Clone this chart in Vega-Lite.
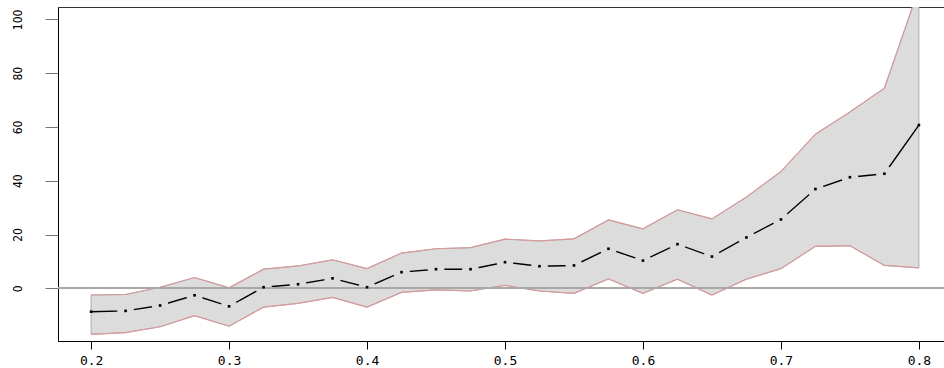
{
  "$schema": "https://vega.github.io/schema/vega-lite/v6.json",
  "width": 894,
  "height": 334,
  "autosize": {"type": "none"},
  "padding": {"left": 58, "top": 7, "right": 0, "bottom": 27},
  "background": "white",
  "config": {"view": {"stroke": "#333333", "strokeWidth": 1}},
  "data": {"values": [
    {"x": 0.2, "mean": -8.7, "lo": -17.1, "hi": -2.5},
    {"x": 0.225, "mean": -8.4, "lo": -16.5, "hi": -2.3},
    {"x": 0.25, "mean": -6.4, "lo": -14.3, "hi": 0.4},
    {"x": 0.275, "mean": -2.6, "lo": -10.2, "hi": 4.0},
    {"x": 0.3, "mean": -6.7, "lo": -14.1, "hi": 0.2},
    {"x": 0.325, "mean": 0.4, "lo": -7.0, "hi": 7.1},
    {"x": 0.35, "mean": 1.5, "lo": -5.6, "hi": 8.3},
    {"x": 0.375, "mean": 3.7, "lo": -3.4, "hi": 10.6},
    {"x": 0.4, "mean": 0.4, "lo": -7.0, "hi": 7.3},
    {"x": 0.425, "mean": 6.0, "lo": -1.5, "hi": 13.1},
    {"x": 0.45, "mean": 7.1, "lo": -0.6, "hi": 14.7},
    {"x": 0.475, "mean": 7.1, "lo": -1.0, "hi": 15.1},
    {"x": 0.5, "mean": 9.7, "lo": 1.1, "hi": 18.3},
    {"x": 0.525, "mean": 8.2, "lo": -1.0, "hi": 17.6},
    {"x": 0.55, "mean": 8.5, "lo": -1.9, "hi": 18.4},
    {"x": 0.575, "mean": 14.7, "lo": 3.5, "hi": 25.4},
    {"x": 0.6, "mean": 10.3, "lo": -1.9, "hi": 22.1},
    {"x": 0.625, "mean": 16.4, "lo": 3.4, "hi": 29.2},
    {"x": 0.65, "mean": 11.8, "lo": -2.5, "hi": 25.8},
    {"x": 0.675, "mean": 18.9, "lo": 3.4, "hi": 33.9},
    {"x": 0.7, "mean": 25.6, "lo": 7.3, "hi": 43.4},
    {"x": 0.725, "mean": 36.9, "lo": 15.6, "hi": 57.3},
    {"x": 0.75, "mean": 41.3, "lo": 15.8, "hi": 65.6},
    {"x": 0.775, "mean": 42.6, "lo": 8.5, "hi": 74.4},
    {"x": 0.8, "mean": 60.7, "lo": 7.6, "hi": 111.4}
  ]},
  "layer": [
    {
      "mark": {"type": "area", "fill": "#DCDCDC", "stroke": "#ABABAB", "strokeWidth": 1, "clip": true},
      "encoding": {
        "x": {"field": "x", "type": "quantitative", "title": null,
          "scale": {"domain": [0.176, 0.824], "nice": false, "zero": false},
          "axis": {"values": [0.2, 0.3, 0.4, 0.5, 0.6, 0.7, 0.8], "format": ".1f", "title": null, "grid": false,
            "tickSize": 8, "tickColor": "#000000", "domainColor": "#000000", "labelColor": "#000000",
            "labelFont": "DejaVu Sans Mono", "labelFontSize": 13, "labelPadding": 5, "labelBaseline": "top"}},
        "y": {"field": "lo", "type": "quantitative", "title": null,
          "scale": {"domain": [-19.6, 104.6], "nice": false, "zero": false},
          "axis": {"values": [0, 20, 40, 60, 80, 100], "title": null, "grid": false,
            "tickSize": 13, "tickColor": "#777777", "domainColor": "#000000", "labelColor": "#000000",
            "labelFont": "DejaVu Sans Condensed, Liberation Sans, sans-serif", "labelFontSize": 12, "labelAngle": -90,
            "labelAlign": "center", "labelBaseline": "alphabetic", "labelPadding": 24}},
        "y2": {"field": "hi"}
      }
    },
    {
      "mark": {"type": "line", "color": "#D99A9C", "strokeWidth": 1.2, "clip": true},
      "encoding": {
        "x": {"field": "x", "type": "quantitative", "title": null},
        "y": {"field": "lo", "type": "quantitative", "title": null}
      }
    },
    {
      "mark": {"type": "line", "color": "#D99A9C", "strokeWidth": 1.2, "clip": true},
      "encoding": {
        "x": {"field": "x", "type": "quantitative", "title": null},
        "y": {"field": "hi", "type": "quantitative", "title": null}
      }
    },
    {
      "mark": {"type": "line", "color": "#000000", "strokeWidth": 1.4, "clip": true},
      "encoding": {
        "x": {"field": "x", "type": "quantitative", "title": null},
        "y": {"field": "mean", "type": "quantitative", "title": null}
      }
    },
    {
      "transform": [{"filter": "datum.x > 0.21 && datum.x < 0.79"}],
      "mark": {"type": "point", "shape": "circle", "filled": true, "color": "#DCDCDC", "opacity": 1, "size": 280, "clip": true},
      "encoding": {
        "x": {"field": "x", "type": "quantitative", "title": null},
        "y": {"field": "mean", "type": "quantitative", "title": null}
      }
    },
    {
      "mark": {"type": "rule", "color": "#A8A8A8", "strokeWidth": 1.2},
      "encoding": {"y": {"datum": 0, "type": "quantitative"}}
    },
    {
      "mark": {"type": "point", "shape": "square", "filled": true, "color": "#000000", "opacity": 1, "size": 7, "clip": true},
      "encoding": {
        "x": {"field": "x", "type": "quantitative", "title": null},
        "y": {"field": "mean", "type": "quantitative", "title": null}
      }
    }
  ]
}
